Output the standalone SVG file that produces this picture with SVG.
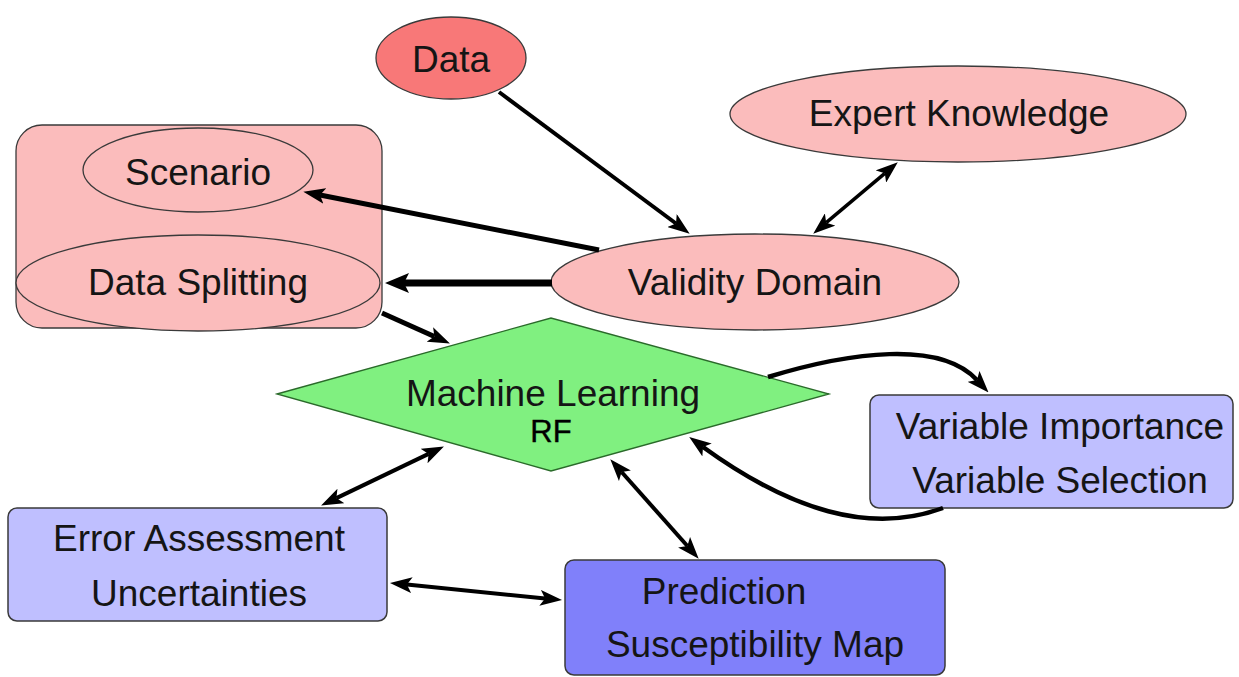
<svg xmlns="http://www.w3.org/2000/svg" width="1239" height="677" viewBox="0 0 1239 677">
<style>
  text { font-family: "Liberation Sans", Arial, sans-serif; font-size: 37px; fill: #151515; text-anchor: middle; }
  .pink { fill: #fbbcbc; stroke: #3a3a3a; stroke-width: 1.3; }
  .red { fill: #f87878; stroke: #3a3a3a; stroke-width: 1.3; }
  .green { fill: #80f080; stroke: #2a6a2a; stroke-width: 1.3; }
  .lblue { fill: #bfbfff; stroke: #3a3a3a; stroke-width: 1.5; }
  .dblue { fill: #8080fa; stroke: #3a3a3a; stroke-width: 1.5; }
  .edge { fill: none; stroke: #000; stroke-linecap: butt; }
  .rf { font-size: 31px; fill: #000; stroke: #000; stroke-width: 0.4; }
</style>
<defs>
  <marker id="ah" markerUnits="userSpaceOnUse" markerWidth="22" markerHeight="16" refX="5" refY="8" orient="auto-start-reverse" viewBox="0 0 22 16">
    <path d="M0,0 L22,8 L0,16 L5,8 z" fill="#000"/>
  </marker>
  <marker id="ahL" markerUnits="userSpaceOnUse" markerWidth="24" markerHeight="20" refX="5" refY="10" orient="auto-start-reverse" viewBox="0 0 24 20">
    <path d="M0,0 L24,10 L0,20 L5,10 z" fill="#000"/>
  </marker>
</defs>

<g id="group-box">
  <rect class="pink" x="16" y="125" width="366" height="203" rx="26" ry="26"/>
</g>
<g id="node-scenario">
  <ellipse class="pink" cx="198" cy="170" rx="115" ry="42"/>
  <text x="198" y="185">Scenario</text>
</g>
<g id="node-datasplitting">
  <ellipse class="pink" cx="198" cy="283" rx="182" ry="48"/>
  <text x="198" y="295">Data Splitting</text>
</g>
<g id="node-data">
  <ellipse class="red" cx="451" cy="58" rx="75" ry="41"/>
  <text x="451" y="72">Data</text>
</g>
<g id="node-expert">
  <ellipse class="pink" cx="958" cy="114" rx="228" ry="48"/>
  <text x="959" y="126">Expert Knowledge</text>
</g>
<g id="node-validity">
  <ellipse class="pink" cx="755" cy="282" rx="204" ry="48"/>
  <text x="755" y="295">Validity Domain</text>
</g>
<g id="node-ml">
  <polygon class="green" points="277,394 551,318 829,394 551,471"/>
  <text x="553" y="406">Machine Learning</text>
  <text class="rf" x="551" y="442">RF</text>
</g>
<g id="node-varimp">
  <rect class="lblue" x="870" y="395" width="363" height="113" rx="9" ry="9"/>
  <text x="1060" y="439">Variable Importance</text>
  <text x="1060" y="493">Variable Selection</text>
</g>
<g id="node-error">
  <rect class="lblue" x="8" y="508" width="379" height="113" rx="9" ry="9"/>
  <text x="199" y="551">Error Assessment</text>
  <text x="199" y="606">Uncertainties</text>
</g>
<g id="node-prediction">
  <rect class="dblue" x="565" y="560" width="380" height="115" rx="9" ry="9"/>
  <text x="724" y="604">Prediction</text>
  <text x="755" y="657">Susceptibility Map</text>
</g>

<g id="connectors">
  <line class="edge" x1="499" y1="92" x2="676" y2="223.5" stroke-width="4" marker-end="url(#ah)"/>
  <line class="edge" x1="599" y1="250" x2="320" y2="195" stroke-width="5" marker-end="url(#ah)"/>
  <line class="edge" x1="552" y1="283" x2="404" y2="283" stroke-width="7" marker-end="url(#ahL)"/>
  <line class="edge" x1="826.2" y1="222.7" x2="884.8" y2="173.3" stroke-width="3.5" marker-start="url(#ah)" marker-end="url(#ah)"/>
  <line class="edge" x1="382" y1="313" x2="434.4" y2="336.5" stroke-width="5" marker-end="url(#ah)"/>
  <path class="edge" d="M768,377 C850,352 940,340 977,380" stroke-width="4.5" marker-end="url(#ah)"/>
  <path class="edge" d="M943,508 C870,535 790,510 703,447" stroke-width="4.5" marker-end="url(#ah)"/>
  <line class="edge" x1="336.4" y1="498.1" x2="428.6" y2="453.9" stroke-width="4" marker-start="url(#ah)" marker-end="url(#ah)"/>
  <line class="edge" x1="621.6" y1="472" x2="687.4" y2="546" stroke-width="4" marker-start="url(#ah)" marker-end="url(#ah)"/>
  <line class="edge" x1="406.9" y1="584.6" x2="545.1" y2="598.4" stroke-width="4" marker-start="url(#ah)" marker-end="url(#ah)"/>
</g>
</svg>
